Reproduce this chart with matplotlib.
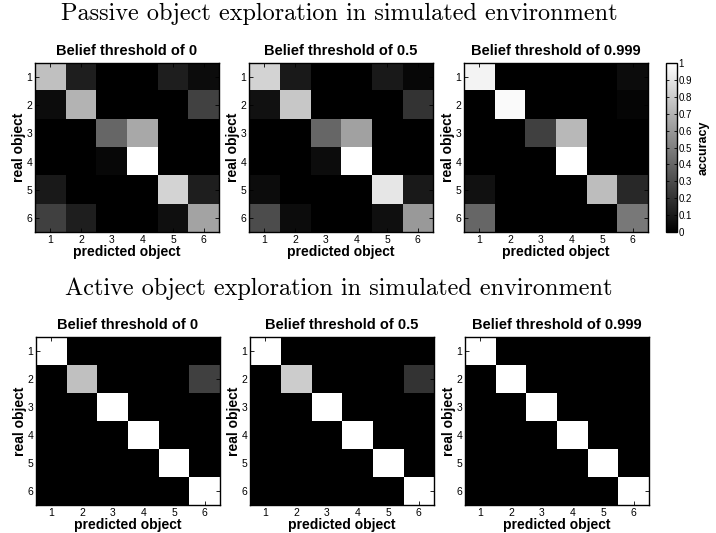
import numpy as np
import matplotlib
matplotlib.use("Agg")
import matplotlib.pyplot as plt

plt.rcParams["font.family"] = ["Liberation Sans", "DejaVu Sans"]

# --- Data (accuracy, rows = real object, cols = predicted object) ---
objects = [1, 2, 3, 4, 5, 6]
thresholds = ["0", "0.5", "0.999"]

passive_0 = [
    [0.75, 0.12, 0.00, 0.00, 0.12, 0.05],
    [0.05, 0.70, 0.00, 0.00, 0.00, 0.26],
    [0.00, 0.00, 0.40, 0.66, 0.00, 0.00],
    [0.00, 0.00, 0.03, 1.00, 0.00, 0.00],
    [0.10, 0.00, 0.00, 0.00, 0.83, 0.12],
    [0.25, 0.12, 0.00, 0.00, 0.06, 0.64],
]
passive_05 = [
    [0.83, 0.10, 0.00, 0.00, 0.10, 0.03],
    [0.07, 0.78, 0.00, 0.00, 0.00, 0.20],
    [0.00, 0.00, 0.40, 0.63, 0.00, 0.00],
    [0.00, 0.00, 0.05, 1.00, 0.00, 0.00],
    [0.05, 0.00, 0.00, 0.00, 0.90, 0.10],
    [0.30, 0.05, 0.00, 0.00, 0.06, 0.60],
]
passive_0999 = [
    [0.95, 0.00, 0.00, 0.00, 0.00, 0.05],
    [0.00, 0.98, 0.00, 0.00, 0.00, 0.02],
    [0.00, 0.00, 0.25, 0.72, 0.00, 0.00],
    [0.00, 0.00, 0.00, 1.00, 0.00, 0.00],
    [0.07, 0.00, 0.00, 0.00, 0.74, 0.16],
    [0.40, 0.00, 0.00, 0.00, 0.00, 0.47],
]
active_0 = [
    [1.00, 0.00, 0.00, 0.00, 0.00, 0.00],
    [0.00, 0.75, 0.00, 0.00, 0.00, 0.25],
    [0.00, 0.00, 1.00, 0.00, 0.00, 0.00],
    [0.00, 0.00, 0.00, 1.00, 0.00, 0.00],
    [0.00, 0.00, 0.00, 0.00, 1.00, 0.00],
    [0.00, 0.00, 0.00, 0.00, 0.00, 1.00],
]
active_05 = [
    [1.00, 0.00, 0.00, 0.00, 0.00, 0.00],
    [0.00, 0.80, 0.00, 0.00, 0.00, 0.20],
    [0.00, 0.00, 1.00, 0.00, 0.00, 0.00],
    [0.00, 0.00, 0.00, 1.00, 0.00, 0.00],
    [0.00, 0.00, 0.00, 0.00, 1.00, 0.00],
    [0.00, 0.00, 0.00, 0.00, 0.00, 1.00],
]
active_0999 = [
    [1.00, 0.00, 0.00, 0.00, 0.00, 0.00],
    [0.00, 1.00, 0.00, 0.00, 0.00, 0.00],
    [0.00, 0.00, 1.00, 0.00, 0.00, 0.00],
    [0.00, 0.00, 0.00, 1.00, 0.00, 0.00],
    [0.00, 0.00, 0.00, 0.00, 1.00, 0.00],
    [0.00, 0.00, 0.00, 0.00, 0.00, 1.00],
]

W, H = 716, 533
fig = plt.figure(figsize=(W / 100, H / 100), dpi=100)


def px_axes(x0, y0, x1, y1):
    # pixel box (top-left origin) -> figure fraction
    return fig.add_axes([x0 / W, 1 - y1 / H, (x1 - x0) / W, (y1 - y0) / H])


def draw(ax, mat, title):
    im = ax.imshow(np.array(mat), cmap="gray", vmin=0, vmax=1,
                   aspect="auto", interpolation="nearest",
                   extent=[0.5, 6.5, 6.5, 0.5])
    ax.set_xticks(objects)
    ax.set_yticks(objects)
    ax.tick_params(direction="in", length=3, width=0.6, labelsize=7.5,
                   pad=2, top=True, right=True)
    for s in ax.spines.values():
        s.set_linewidth(1.0)
    ax.set_title(title, fontsize=10.5, fontweight="bold", pad=6)
    ax.set_xlabel("predicted object", fontsize=10, fontweight="bold", labelpad=0)
    ax.set_ylabel("real object", fontsize=10, fontweight="bold", labelpad=0)
    return im


xs = [(35, 219), (249, 433), (464, 648)]

for (x0, x1), mat, th in zip(xs, [passive_0, passive_05, passive_0999], thresholds):
    ax = px_axes(x0, 63, x1, 232)
    im = draw(ax, mat, f"Belief threshold of {th}")

for (x0, x1), mat, th in zip(xs, [active_0, active_05, active_0999], thresholds):
    ax = px_axes(x0 + 1, 337, x1 + 1, 505)
    draw(ax, mat, f"Belief threshold of {th}")

cax = px_axes(666, 63, 677, 232)
cb = fig.colorbar(im, cax=cax, ticks=np.round(np.arange(0, 1.01, 0.1), 1))
cb.ax.tick_params(direction="in", length=2, width=0.6, labelsize=7, pad=1,
                  left=True)
cb.ax.set_yticklabels(["0", "0.1", "0.2", "0.3", "0.4", "0.5", "0.6", "0.7",
                       "0.8", "0.9", "1"])
cb.outline.set_linewidth(1.0)
cb.set_label("accuracy", fontsize=9, fontweight="bold", labelpad=4)

fig.text(339 / W, 1 - 14 / H, "Passive object exploration in simulated environment",
         ha="center", va="center", fontsize=17.5, family="cmr10")
fig.text(339 / W, 1 - 289 / H, "Active object exploration in simulated environment",
         ha="center", va="center", fontsize=17.5, family="cmr10")

fig.savefig("out.png", dpi=100)
